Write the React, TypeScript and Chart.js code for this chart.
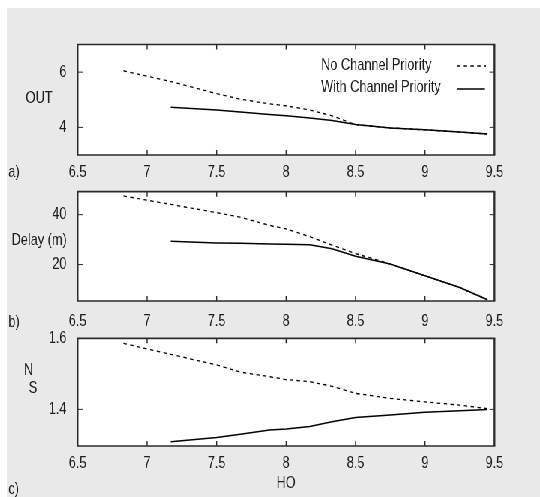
import React, { useEffect, useRef } from "react";
import { Chart, registerables } from "chart.js";

Chart.register(...registerables);

// ---------------- data ----------------
const hoValues = [6.83, 7.0, 7.17, 7.5, 7.67, 7.88, 8.0, 8.17, 8.33, 8.5, 8.75, 9.0, 9.25, 9.45];

const outNoPriority = [6.05, 5.85, 5.66, 5.22, 5.02, 4.85, 4.78, 4.63, 4.42, 4.1, 3.98, 3.91, 3.83, 3.76];
const outWithPriority = [null, null, 4.73, 4.63, 4.56, 4.47, 4.42, 4.34, 4.25, 4.1, 3.98, 3.91, 3.83, 3.76];

const delayNoPriority = [47.5, 45.8, 44.1, 40.8, 39.0, 35.7, 34.3, 31.2, 27.8, 24.4, 20.2, 15.5, 10.8, 5.9];
const delayWithPriority = [null, null, 29.3, 28.6, 28.5, 28.2, 28.1, 27.9, 26.3, 23.3, 20.2, 15.5, 10.8, 5.9];

const nsNoPriority = [1.586, 1.57, 1.555, 1.525, 1.505, 1.492, 1.484, 1.478, 1.465, 1.445, 1.431, 1.421, 1.412, 1.402];
const nsWithPriority = [null, null, 1.309, 1.321, 1.33, 1.342, 1.345, 1.352, 1.365, 1.377, 1.384, 1.392, 1.396, 1.4];

const xTicks = [6.5, 7, 7.5, 8, 8.5, 9, 9.5];
const outTicks = [4, 6];
const delayTicks = [20, 40];
const nsTicks = [1.4, 1.6];

const seriesNames = ["No Channel Priority", "With Channel Priority"];
const panelLetters = ["a)", "b)", "c)"];
const yTitles = ["OUT", "Delay (m)", "N"];
const nsSubscript = "S";
const xTitle = "HO";

// ---------------- layout ----------------
const SX = 0.75; // horizontal squeeze of the whole figure
const LW = 540 / SX; // logical width
const L = (v: number) => v / SX; // actual px -> logical px

const FONT = '"Liberation Sans", Arial, Helvetica, sans-serif';
const TEXT = "#1e1e1e";

const panelSeries = [
  [outNoPriority, outWithPriority],
  [delayNoPriority, delayWithPriority],
  [nsNoPriority, nsWithPriority],
];
const panelYTicks = [outTicks, delayTicks, nsTicks];

const panels = [
  { bandTop: 8, bandH: 200, frameTop: 44.5, frameBottom: 155, labelY: 172, yMin: 3, yMax: 7 },
  { bandTop: 180, bandH: 160, frameTop: 191.7, frameBottom: 301, labelY: 321, yMin: 5.4, yMax: 49.2 },
  { bandTop: 330, bandH: 167, frameTop: 338.3, frameBottom: 446, labelY: 463.5, yMin: 1.297, yMax: 1.6 },
];

function makePlugin(idx: number) {
  return {
    id: "frameDecor" + idx,
    afterDraw(chart: any) {
      const ctx = chart.ctx as CanvasRenderingContext2D;
      const { left, right, top, bottom } = chart.chartArea;
      const xs = chart.scales.x;
      const ys = chart.scales.y;
      const p = panels[idx];
      const Y = (v: number) => v - p.bandTop;
      ctx.save();
      ctx.strokeStyle = "#2a2a2a";
      ctx.setLineDash([]);
      // inward x ticks
      ctx.lineWidth = 1.4;
      for (const v of xTicks) {
        if (v <= xs.min || v >= xs.max) continue;
        const px = xs.getPixelForValue(v);
        ctx.beginPath();
        ctx.moveTo(px, top);
        ctx.lineTo(px, top + 5);
        ctx.moveTo(px, bottom);
        ctx.lineTo(px, bottom - 5);
        ctx.stroke();
      }
      // inward y ticks
      ctx.lineWidth = 1;
      for (const v of panelYTicks[idx]) {
        if (v <= ys.min || v >= ys.max) continue;
        const py = ys.getPixelForValue(v);
        ctx.beginPath();
        ctx.moveTo(left, py);
        ctx.lineTo(left + L(5), py);
        ctx.moveTo(right, py);
        ctx.lineTo(right - L(5), py);
        ctx.stroke();
      }
      // frame
      ctx.lineWidth = 1.7;
      ctx.beginPath();
      ctx.moveTo(left - 1, top);
      ctx.lineTo(right + 1, top);
      ctx.moveTo(left - 1, bottom);
      ctx.lineTo(right + 1, bottom);
      ctx.stroke();
      ctx.lineWidth = 2.3;
      ctx.beginPath();
      ctx.moveTo(left, top);
      ctx.lineTo(left, bottom);
      ctx.moveTo(right, top);
      ctx.lineTo(right, bottom);
      ctx.stroke();

      // texts
      ctx.fillStyle = TEXT;
      ctx.font = `17px ${FONT}`;
      ctx.textAlign = "center";
      ctx.textBaseline = "middle";
      // x tick labels
      for (const v of xTicks) {
        ctx.fillText(String(v), xs.getPixelForValue(v), Y(p.labelY));
      }
      if (idx === 0) {
        ctx.fillText(yTitles[0], L(39), Y(98));
        ctx.fillText(panelLetters[0], L(14), Y(172));
        // legend
        ctx.textAlign = "left";
        const rows = [Y(65), Y(87)];
        ctx.fillText(seriesNames[0], L(321), rows[0]);
        ctx.fillText(seriesNames[1], L(321), rows[1]);
        ctx.strokeStyle = "#000";
        ctx.lineWidth = 1.3;
        ctx.setLineDash([4.5, 4.5]);
        ctx.beginPath();
        ctx.moveTo(L(457), rows[0] + 1);
        ctx.lineTo(L(486), rows[0] + 1);
        ctx.stroke();
        ctx.setLineDash([]);
        ctx.lineWidth = 1.5;
        ctx.beginPath();
        ctx.moveTo(L(457), rows[1] + 2);
        ctx.lineTo(L(485), rows[1] + 2);
        ctx.stroke();
      } else if (idx === 1) {
        ctx.fillText(yTitles[1], L(39), Y(240));
        ctx.fillText(panelLetters[1], L(14), Y(322));
      } else {
        ctx.fillText(yTitles[2], L(28.5), Y(370));
        ctx.fillText(nsSubscript, L(33), Y(388));
        ctx.fillText(xTitle, L(286), Y(483));
        ctx.fillText(panelLetters[2], L(13.5), Y(489));
      }
      ctx.restore();
    },
  };
}

function makeConfig(idx: number): any {
  const p = panels[idx];
  const [noP, withP] = panelSeries[idx];
  const yT = panelYTicks[idx];
  const padTop = p.frameTop - p.bandTop;
  const below = p.bandTop + p.bandH - p.frameBottom;
  return {
    type: "line",
    data: {
      datasets: [
        {
          label: seriesNames[0],
          data: hoValues.map((x, i) => ({ x, y: noP[i] })),
          borderColor: "#000",
          borderWidth: 1.3,
          borderDash: [4.5, 4.5],
          pointRadius: 0,
          tension: 0,
          fill: false,
        },
        {
          label: seriesNames[1],
          data: hoValues.map((x, i) => ({ x, y: withP[i] })),
          borderColor: "#000",
          borderWidth: 1.5,
          pointRadius: 0,
          tension: 0,
          fill: false,
        },
      ],
    },
    options: {
      animation: false,
      responsive: true,
      maintainAspectRatio: false,
      events: [],
      layout: { padding: { left: 0, right: LW - L(494.5), top: padTop, bottom: 0 } },
      plugins: { legend: { display: false }, tooltip: { enabled: false }, title: { display: false } },
      scales: {
        x: {
          type: "linear",
          min: 6.5,
          max: 9.5,
          grid: { display: false },
          border: { display: false },
          afterBuildTicks: (s: any) => {
            s.ticks = xTicks.map((v) => ({ value: v }));
          },
          afterFit: (s: any) => {
            s.height = below;
            s.paddingLeft = 0;
            s.paddingRight = 0;
          },
          ticks: { display: false },
        },
        y: {
          type: "linear",
          min: p.yMin,
          max: p.yMax,
          grid: { display: false },
          border: { display: false },
          afterBuildTicks: (s: any) => {
            s.ticks = yT.map((v) => ({ value: v }));
          },
          afterFit: (s: any) => {
            s.width = L(77.5);
            s.paddingTop = 0;
            s.paddingBottom = 0;
          },
          ticks: {
            padding: 7,
            color: TEXT,
            font: { family: FONT, size: 17 },
            callback: (v: number) => String(v),
          },
        },
      },
    },
    plugins: [makePlugin(idx)],
  };
}

function Panel({ idx }: { idx: number }) {
  const ref = useRef<HTMLCanvasElement>(null);
  useEffect(() => {
    if (!ref.current) return;
    const chart = new Chart(ref.current, makeConfig(idx));
    return () => chart.destroy();
  }, [idx]);
  const p = panels[idx];
  return (
    <div style={{ position: "absolute", left: 0, top: p.bandTop, width: LW, height: p.bandH }}>
      <canvas ref={ref} />
    </div>
  );
}

function PlotBg({ idx }: { idx: number }) {
  const p = panels[idx];
  return (
    <div
      style={{
        position: "absolute",
        left: L(77.5),
        top: p.frameTop,
        width: L(494.5) - L(77.5),
        height: p.frameBottom - p.frameTop,
        background: "#ffffff",
      }}
    />
  );
}

export default function App() {
  return (
    <div style={{ position: "fixed", left: 0, top: 0, width: 540, height: 497, background: "#ffffff", overflow: "hidden" }}>
      <div style={{ position: "absolute", left: 7, top: 8, right: 0, bottom: 0, background: "#e9e9e9" }} />
      <div
        style={{
          position: "absolute",
          left: 0,
          top: 0,
          width: LW,
          height: 497,
          transform: `scaleX(${SX})`,
          transformOrigin: "0 0",
        }}
      >
        {panels.map((p, i) => (
          <PlotBg key={"bg" + i} idx={i} />
        ))}
        {panels.map((p, i) => (
          <Panel key={i} idx={i} />
        ))}
      </div>
    </div>
  );
}
